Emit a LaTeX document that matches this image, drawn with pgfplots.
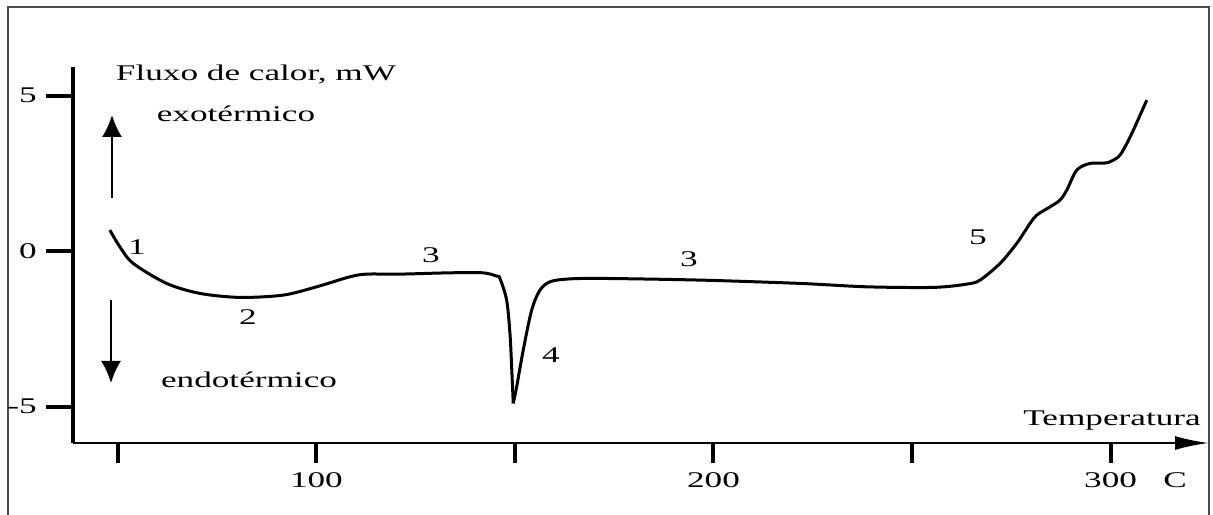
\documentclass[border=0pt]{standalone}
\usepackage{pgfplots}
\pgfplotsset{compat=1.18}
\usepackage{fontspec}
\setmainfont{Liberation Serif}
\usepackage{graphicx}
\usetikzlibrary{arrows.meta}
% wide lettering used throughout the figure
\newcommand{\sx}[1]{\scalebox{1.57}[1]{#1}}

\begin{document}
\begin{tikzpicture}[x=1bp,y=1bp,font=\fontsize{22.5}{27}\selectfont]
\path[use as bounding box] (0,0) rectangle (1213,515);
\draw[black!70, line width=2bp] (8,0) -- (8,508) -- (1209,508) -- (1209,0);
\begin{axis}[
  at={(73bp,72bp)}, anchor=south west,
  scale only axis, width=1136bp, height=376bp,
  xmin=38.7, xmax=324.8, ymin=-6.17, ymax=5.92,
  axis x line=bottom, axis y line=left,
  x axis line style={line width=2.5bp, -{Latex[length=34bp,width=14bp]}},
  y axis line style={line width=4bp, -},
  xtick={50,100,...,300},
  xticklabels={,\sx{100},,\sx{200},,\sx{300}},
  ytick={-5,0,5},
  yticklabels={\sx{-5},\sx{0},\sx{5}},
  tick align=outside,
  major tick length=20bp,
  xtick style={line width=4bp, black},
  ytick style={line width=4bp, black, /pgfplots/major tick length=27bp},
  xticklabel style={inner sep=0pt, anchor=base, yshift=-25bp},
  yticklabel style={inner sep=0pt, anchor=east, xshift=-16bp},
  /pgf/number format/assume math mode=true,
]
% heat flow, left branch down to the melting peak
\addplot[line width=3bp, smooth, tension=0.5] coordinates {
(47.98,0.675)(50.50,0.138)(53.85,-0.395)(62.27,-1.039)(70.65,-1.360)
(80.73,-1.489)(91.64,-1.415)(100.05,-1.148)(108.44,-0.826)(112.64,-0.740)
(121.03,-0.740)(133.63,-0.698)(141.94,-0.698)(145.39,-0.804)(146.22,-0.878)
(147.91,-1.576)(148.74,-2.637)(149.17,-3.720)(149.57,-4.897)
};
% heat flow, right branch from the peak to the end
\addplot[line width=3bp, smooth, tension=0.5] coordinates {
(149.57,-4.897)(150.43,-4.363)(152.09,-3.183)(154.21,-1.897)(156.30,-1.254)
(158.82,-0.987)(163.02,-0.900)(171.41,-0.878)(196.60,-0.932)(221.79,-1.039)
(238.59,-1.148)(255.36,-1.167)(263.78,-1.061)(267.13,-0.932)(272.17,-0.395)
(276.37,0.248)(279.72,0.891)(281.41,1.158)(284.76,1.424)(287.28,1.640)
(288.97,1.961)(291.49,2.605)(294.84,2.820)(299.05,2.839)(301.97,3.032)
(303.65,3.354)(305.74,3.891)(309.12,4.855)
};
\end{axis}
% direction arrows
\draw[line width=2bp, -{Latex[length=22bp,width=20bp]}] (112,317) -- (112,400);
\draw[line width=2bp, -{Latex[length=22bp,width=20bp]}] (111,215) -- (111,132);
% labels
\begin{scope}[every node/.style={inner sep=0pt, anchor=base}]
\node at (256,434) {\sx{Fluxo de calor, mW}};
\node at (236,393) {\sx{exotérmico}};
\node at (249,127) {\sx{endotérmico}};
\node at (137,260) {\sx{1}};
\node at (248,190) {\sx{2}};
\node at (431,252) {\sx{3}};
\node at (551,152) {\sx{4}};
\node at (689,248) {\sx{3}};
\node at (978,270) {\sx{5}};
\node at (1112,89) {\sx{Temperatura}};
\node at (1175,27) {\sx{C}};
\end{scope}
\end{tikzpicture}
\end{document}
